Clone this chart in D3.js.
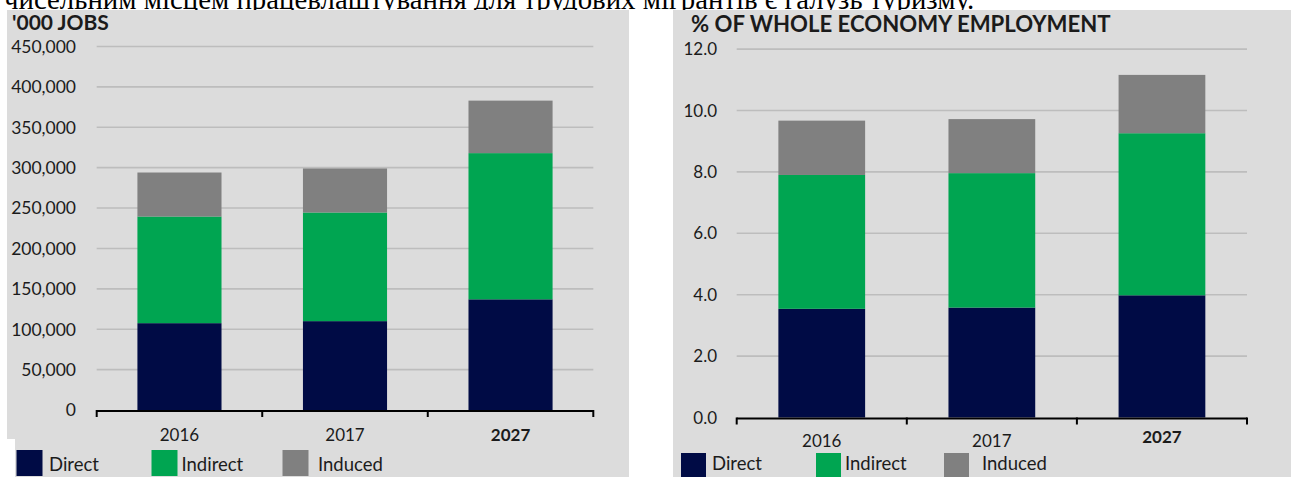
<!DOCTYPE html>
<html><head><meta charset="utf-8">
<script src="https://cdn.jsdelivr.net/npm/d3@7"></script>
<style>
html,body{margin:0;padding:0;background:#fff;}
svg{display:block;}
text{font-family:Lato,"Open Sans",sans-serif;fill:#1b1b1b;}
</style></head>
<body>
<svg id="c" width="1291" height="477"></svg>
<script>
// ---- data ----
const years = ["2016", "2017", "2027"];
const seriesNames = ["Direct", "Indirect", "Induced"];
const jobsDirect   = [107500, 110000, 137000];
const jobsIndirect = [132000, 134500, 181000];
const jobsInduced  = [54500, 54500, 65000];
const shareDirect   = [3.54, 3.58, 3.98];
const shareIndirect = [4.36, 4.38, 5.28];
const shareInduced  = [1.77, 1.76, 1.90];
const jobsTicks  = [0, 50000, 100000, 150000, 200000, 250000, 300000, 350000, 400000, 450000];
const shareTicks = [0, 2, 4, 6, 8, 10, 12];
const leftTitle  = "'000 JOBS";
const rightTitle = "% OF WHOLE ECONOMY EMPLOYMENT";
const topLine = "чисельним місцем працевлаштування для трудових мігрантів є галузь туризму.";

const colors = {Direct:"#000b45", Indirect:"#00a551", Induced:"#808080"};
const svg = d3.select("#c");

function fitWidth(sel, target){
  const w = sel.node().getComputedTextLength();
  const fs = parseFloat(sel.attr("font-size"));
  sel.attr("font-size", fs*target/w);
}

// top cut-off paragraph text
const tl = svg.append("text").attr("x",4).attr("y",9)
  .attr("font-size",24).style("font-family","'Liberation Serif','Times New Roman',serif")
  .style("fill","#000").text(topLine);
fitWidth(tl, 971);

// panels
svg.append("path").attr("fill","#dcdcdc")
  .attr("d","M7,10H629V477H15V439H7Z");
svg.append("rect").attr("x",673).attr("y",10).attr("width",618).attr("height",467).attr("fill","#dcdcdc");

function table(d, i, n){ return years.map((y,k)=>({year:y, Direct:d[k], Indirect:i[k], Induced:n[k]})); }

function drawChart(cfg){
  const g = svg.append("g");
  const x = d3.scaleBand().domain(years).range([cfg.x0, cfg.x1]).paddingInner(cfg.pad).paddingOuter(cfg.pad/2);
  const y = d3.scaleLinear().domain([0, cfg.max]).range([cfg.y0, cfg.yTop]);

  // gridlines
  g.append("g").selectAll("line").data(cfg.ticks.filter(t=>t>0)).join("line")
    .attr("x1",cfg.x0).attr("x2",cfg.x1)
    .attr("y1",d=>y(d)).attr("y2",d=>y(d))
    .attr("stroke","#bdbdbd").attr("stroke-width",1.6);

  // y labels
  g.append("g").selectAll("text").data(cfg.ticks).join("text")
    .attr("x",cfg.labelX).attr("y",d=>y(d)).attr("dy","0.36em")
    .attr("text-anchor","end").attr("font-size",cfg.tickFs)
    .text(cfg.fmt);

  // stacked bars
  const data = table(cfg.d, cfg.i, cfg.n);
  const stack = d3.stack().keys(seriesNames)(data);
  g.append("g").selectAll("g").data(stack).join("g")
    .attr("fill",s=>colors[s.key])
    .selectAll("rect").data(s=>s).join("rect")
    .attr("x",d=>x(d.data.year)).attr("width",x.bandwidth())
    .attr("y",d=>y(d[1])).attr("height",d=>y(d[0])-y(d[1]));

  // axis line + boundary ticks
  const ax = g.append("g");
  ax.append("line").attr("x1",cfg.x0).attr("x2",cfg.x1)
    .attr("y1",cfg.axisY).attr("y2",cfg.axisY).attr("stroke","#000").attr("stroke-width",2);
  const bounds = years.map(yr=>x(yr) - x.step()*cfg.pad/2).concat([cfg.x1]);
  ax.selectAll(".tk").data(bounds).join("line")
    .attr("x1",d=>d).attr("x2",d=>d)
    .attr("y1",cfg.axisY-1).attr("y2",cfg.axisY+6).attr("stroke","#000").attr("stroke-width",2);

  // category labels
  g.append("g").selectAll("text").data(years).join("text")
    .attr("x",d=>x(d)+x.bandwidth()/2)
    .attr("y",(d,k)=>cfg.catY[k])
    .attr("text-anchor","middle").attr("font-size",17)
    .attr("font-weight",d=>d==="2027"?"bold":"normal")
    .text(d=>d);

  // title
  const t = g.append("text").attr("x",cfg.titleX).attr("y",cfg.titleY)
    .attr("font-size",19).attr("font-weight","bold").text(cfg.title);
  fitWidth(t, cfg.titleW);

  // legend
  const lg = g.append("g").selectAll("g").data(seriesNames).join("g");
  lg.append("rect").attr("x",(d,k)=>cfg.legBox[k]).attr("y",cfg.legY)
    .attr("width",cfg.legSize).attr("height",cfg.legSize).attr("fill",d=>colors[d]);
  lg.append("text").attr("x",(d,k)=>cfg.legText[k]).attr("y",cfg.legTextY)
    .attr("font-size",18.5).text(d=>d);
}

drawChart({
  x0:96.7, x1:593.3, pad:0.492, y0:410, yTop:46.5, max:450000,
  ticks:jobsTicks, fmt:d3.format(","), labelX:76, tickFs:17.5, axisY:411,
  d:jobsDirect, i:jobsIndirect, n:jobsInduced,
  catY:[441,441,441],
  title:leftTitle, titleX:12, titleY:29.5, titleW:97,
  legBox:[16.5,151.5,282.5], legText:[49,181.5,318], legY:450, legSize:26, legTextY:471
});

drawChart({
  x0:736.7, x1:1247, pad:0.49, y0:417.5, yTop:49.1, max:12,
  ticks:shareTicks, fmt:d3.format(".1f"), labelX:717, tickFs:17, axisY:418.5,
  d:shareDirect, i:shareIndirect, n:shareInduced,
  catY:[447,447,443],
  title:rightTitle, titleX:691, titleY:32, titleW:420,
  legBox:[681,816,944], legText:[712,845,982], legY:453, legSize:25, legTextY:470
});
</script>
</body></html>
